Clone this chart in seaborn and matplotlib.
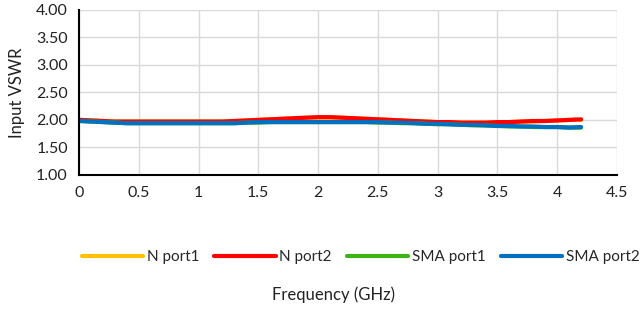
import matplotlib.pyplot as plt
import numpy as np
import pandas as pd
import seaborn as sns

FREQ = [round(0.01 + 0.1 * i, 2) if i == 0 else round(0.1 * i, 2) for i in range(43)]

N_PORT2 = [2.00, 1.99, 1.98, 1.97, 1.97, 1.97, 1.97, 1.97, 1.97, 1.97,
           1.97, 1.97, 1.97, 1.98, 1.99, 2.00, 2.01, 2.02, 2.03, 2.04,
           2.05, 2.05, 2.04, 2.03, 2.02, 2.01, 2.00, 1.99, 1.98, 1.97,
           1.96, 1.96, 1.95, 1.95, 1.95, 1.96, 1.96, 1.97, 1.98, 1.98,
           1.99, 2.00, 2.01]
N_PORT1 = [2.00, 1.99, 1.98, 1.97, 1.97, 1.97, 1.97, 1.97, 1.97, 1.97,
           1.97, 1.97, 1.97, 1.98, 1.99, 2.00, 2.01, 2.02, 2.03, 2.04,
           2.04, 2.04, 2.04, 2.03, 2.02, 2.01, 2.00, 1.99, 1.98, 1.97,
           1.96, 1.96, 1.95, 1.95, 1.95, 1.95, 1.96, 1.97, 1.97, 1.98,
           1.99, 2.00, 2.00]
SMA_PORT2 = [1.98, 1.97, 1.96, 1.95, 1.94, 1.94, 1.94, 1.94, 1.94, 1.94,
             1.94, 1.94, 1.94, 1.94, 1.95, 1.96, 1.96, 1.96, 1.96, 1.96,
             1.96, 1.96, 1.96, 1.96, 1.96, 1.96, 1.95, 1.95, 1.94, 1.93,
             1.93, 1.92, 1.91, 1.91, 1.90, 1.89, 1.89, 1.88, 1.88, 1.87,
             1.87, 1.86, 1.87]
SMA_PORT1 = [1.98, 1.97, 1.96, 1.95, 1.94, 1.94, 1.94, 1.94, 1.94, 1.94,
             1.94, 1.94, 1.94, 1.94, 1.95, 1.95, 1.96, 1.96, 1.96, 1.96,
             1.96, 1.96, 1.96, 1.96, 1.96, 1.95, 1.95, 1.94, 1.94, 1.93,
             1.92, 1.92, 1.91, 1.90, 1.90, 1.89, 1.88, 1.88, 1.87, 1.87,
             1.87, 1.86, 1.86]

SERIES = ['N port1', 'N port2', 'SMA port1', 'SMA port2']
COLORS = ['#FFC000', '#FF0000', '#3CB414', '#0070C0']
X_TICKS = [0, 0.5, 1, 1.5, 2, 2.5, 3, 3.5, 4, 4.5]
Y_TICKS = [1.0, 1.5, 2.0, 2.5, 3.0, 3.5, 4.0]


def main():
    sns.set_theme(style='white')
    plt.rcParams['font.family'] = ['Lato', 'DejaVu Sans']

    df = pd.DataFrame({
        'freq': FREQ * 4,
        'vswr': N_PORT1 + N_PORT2 + SMA_PORT1 + SMA_PORT2,
        'series': np.repeat(SERIES, len(FREQ)),
    })

    fig = plt.figure(figsize=(6.42, 3.09), dpi=100)
    ax = fig.add_axes([0.123, 0.434, 0.838, 0.534])

    sns.lineplot(data=df, x='freq', y='vswr', hue='series', hue_order=SERIES,
                 palette=COLORS, linewidth=3, ax=ax, legend=False)

    ax.set_xlim(0, 4.5)
    ax.set_ylim(1.0, 4.0)
    ax.set_xticks(X_TICKS)
    ax.set_xticklabels(['0', '0.5', '1', '1.5', '2', '2.5', '3', '3.5', '4', '4.5'])
    ax.set_yticks(Y_TICKS)
    ax.set_yticklabels([f'{v:.2f}' for v in Y_TICKS])
    ax.grid(True, color='#D9D9D9', linewidth=1)
    ax.set_axisbelow(True)
    ax.tick_params(labelsize=11.5, length=0, pad=8, colors='#222222')

    for side in ['top', 'right']:
        ax.spines[side].set_visible(False)
    for side in ['left', 'bottom']:
        ax.spines[side].set_color('black')
        ax.spines[side].set_linewidth(1.5)

    ax.set_ylabel('Input VSWR', fontsize=12, color='#222222', labelpad=8)
    ax.set_xlabel('')
    fig.text(0.52, 0.045, 'Frequency (GHz)', ha='center', va='center',
             fontsize=12, color='#222222')

    handles = [plt.Line2D([], [], color=c, linewidth=3) for c in COLORS]
    fig.legend(handles, SERIES, loc='center', bbox_to_anchor=(0.562, 0.168),
               ncol=4, frameon=False, fontsize=11, handlelength=4.0,
               handletextpad=0.25, columnspacing=1.0)

    plt.savefig('out.png', dpi=100)
    plt.close()


if __name__ == '__main__':
    main()
